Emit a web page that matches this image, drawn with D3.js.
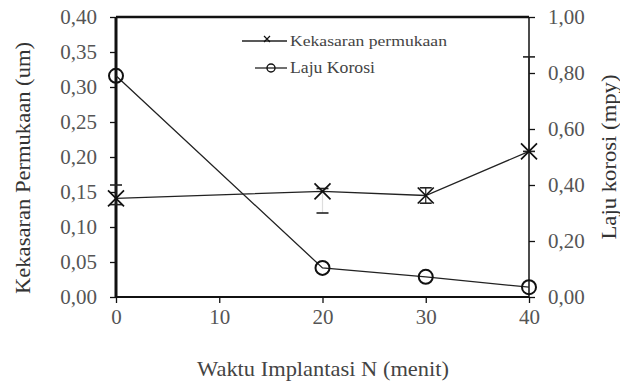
<!DOCTYPE html>
<html>
<head>
<meta charset="utf-8">
<script src="https://cdn.jsdelivr.net/npm/d3@7/dist/d3.min.js"></script>
<style>
  html, body { margin: 0; padding: 0; background: #fff; }
  #chart text { font-family: "Liberation Serif", "Times New Roman", serif; }
</style>
</head>
<body>
<svg id="chart" width="620" height="383"></svg>
<script>
// Implantation time (minutes)
const waktu = [0, 20, 30, 40];
// Surface roughness (um), left axis
const kekasaran = [0.141, 0.151, 0.145, 0.208];
const kekasaranAtas = [0.160, 0.155, 0.156, 0.343];
const kekasaranBawah = [0.132, 0.120, 0.134, 0.208];
// Corrosion rate (mpy), right axis
const lajuKorosi = [0.79, 0.104, 0.072, 0.035];

const xTicks = [0, 10, 20, 30, 40];
const yLeftTicks = [0, 0.05, 0.10, 0.15, 0.20, 0.25, 0.30, 0.35, 0.40];
const yRightTicks = [0, 0.2, 0.4, 0.6, 0.8, 1.0];
const legendLabels = ["Kekasaran permukaan", "Laju Korosi"];

const FONT = '"Liberation Serif", "Times New Roman", serif';
const svg = d3.select("#chart");
const m = { left: 116, right: 529, top: 17, bottom: 297 };

const x = d3.scaleLinear().domain([0, 40]).range([m.left, m.right]);
const yL = d3.scaleLinear().domain([0, 0.40]).range([m.bottom, m.top]);
const yR = d3.scaleLinear().domain([0, 1.0]).range([m.bottom, m.top]);

const fmt = d => d3.format(".2f")(d).replace(".", ",");

// Frame
svg.append("line").attr("x1", m.left).attr("x2", m.right).attr("y1", m.top).attr("y2", m.top)
  .attr("stroke", "#111").attr("stroke-width", 2.5);

// Axes
const axL = svg.append("g").attr("transform", `translate(${m.left},0)`)
  .call(d3.axisLeft(yL).tickValues(yLeftTicks).tickFormat(fmt).tickSize(6).tickPadding(13));
const axR = svg.append("g").attr("transform", `translate(${m.right},0)`)
  .call(d3.axisRight(yR).tickValues(yRightTicks).tickFormat(fmt).tickSize(6).tickPadding(13));
const axB = svg.append("g").attr("transform", `translate(0,${m.bottom})`)
  .call(d3.axisBottom(x).tickValues(xTicks).tickFormat(d3.format("d")).tickSize(6).tickPadding(6));

[axL, axR, axB].forEach(g => {
  g.attr("font-family", FONT).attr("font-size", 21);
  g.select(".domain").attr("stroke", "#111");
  g.selectAll(".tick line").attr("stroke", "#111").attr("stroke-width", 1.3);
  g.selectAll(".tick text").attr("font-family", FONT).style("font-family", FONT)
    .style("font-size", "21px").attr("fill", "#555");
});
axL.select(".domain").attr("stroke-width", 3).attr("d", `M0,${m.bottom}V${m.top}`);
axR.select(".domain").attr("stroke-width", 1.5).attr("d", `M0,${m.bottom}V${m.top}`);
axB.select(".domain").attr("stroke-width", 2).attr("d", `M${m.left},0H${m.right}`);

// Axis titles
const title = (tr, txt, size, len, fill) => svg.append("text").attr("transform", tr)
  .attr("text-anchor", "middle").style("font-family", FONT).style("font-size", size + "px")
  .attr("textLength", len).attr("lengthAdjust", "spacingAndGlyphs")
  .attr("fill", fill).text(txt);
title("translate(30,168) rotate(-90)", "Kekasaran Permukaan (um)", 21, 252, "#333");
title("translate(616,157) rotate(-90)", "Laju korosi (mpy)", 21, 165, "#333");
title("translate(323,376)", "Waktu Implantasi N (menit)", 22, 252, "#444");

// Roughness series
const lineL = d3.line().x((d, i) => x(waktu[i])).y(d => yL(d));
svg.append("path").datum(kekasaran).attr("d", lineL)
  .attr("fill", "none").attr("stroke", "#222").attr("stroke-width", 1.3);

// Error bars
const eb = svg.append("g").attr("stroke", "#222").attr("stroke-width", 1.2);
waktu.forEach((w, i) => {
  const cx = x(w);
  eb.append("line").attr("x1", cx).attr("x2", cx)
    .attr("y1", yL(kekasaranAtas[i])).attr("y2", yL(kekasaranBawah[i]))
    .attr("stroke-opacity", i === 1 ? 0.15 : 1);
  [kekasaranAtas[i], kekasaranBawah[i]].forEach(v => {
    eb.append("line").attr("x1", cx - 6).attr("x2", cx + 6).attr("y1", yL(v)).attr("y2", yL(v))
      .attr("stroke-width", 1.6);
  });
});

// X markers
const cross = (g, cx, cy, s, w) => {
  g.append("path").attr("d", `M${cx - s},${cy - s}L${cx + s},${cy + s}M${cx - s},${cy + s}L${cx + s},${cy - s}`)
    .attr("stroke", "#111").attr("stroke-width", w).attr("fill", "none");
};
kekasaran.forEach((v, i) => cross(svg, x(waktu[i]), yL(v), 8, 1.7));

// Corrosion series
const lineR = d3.line().x((d, i) => x(waktu[i])).y(d => yR(d));
svg.append("path").datum(lajuKorosi).attr("d", lineR)
  .attr("fill", "none").attr("stroke", "#222").attr("stroke-width", 1.3);
svg.selectAll("circle.k").data(lajuKorosi).enter().append("circle")
  .attr("cx", (d, i) => x(waktu[i])).attr("cy", d => yR(d)).attr("r", 7)
  .attr("fill", "none").attr("stroke", "#111").attr("stroke-width", 2);

// Legend
const lg = svg.append("g");
const legendLines = [[242, 287], [255, 287]];
legendLabels.forEach((t, i) => {
  const ly = 41 + i * 27;
  lg.append("line").attr("x1", legendLines[i][0]).attr("x2", legendLines[i][1]).attr("y1", ly).attr("y2", ly)
    .attr("stroke", "#222").attr("stroke-width", 1.3);
  if (i === 0) cross(lg, 267, ly - 2, 3, 1.2);
  else lg.append("circle").attr("cx", 271).attr("cy", ly).attr("r", 4)
    .attr("fill", "none").attr("stroke", "#111").attr("stroke-width", 1.4);
  lg.append("text").attr("x", 290).attr("y", ly + 5)
    .style("font-family", FONT).style("font-size", (i === 0 ? 15 : 17) + "px")
    .attr("textLength", i === 0 ? 157 : 85).attr("lengthAdjust", "spacingAndGlyphs")
    .attr("fill", "#444").text(t);
});
</script>
</body>
</html>
